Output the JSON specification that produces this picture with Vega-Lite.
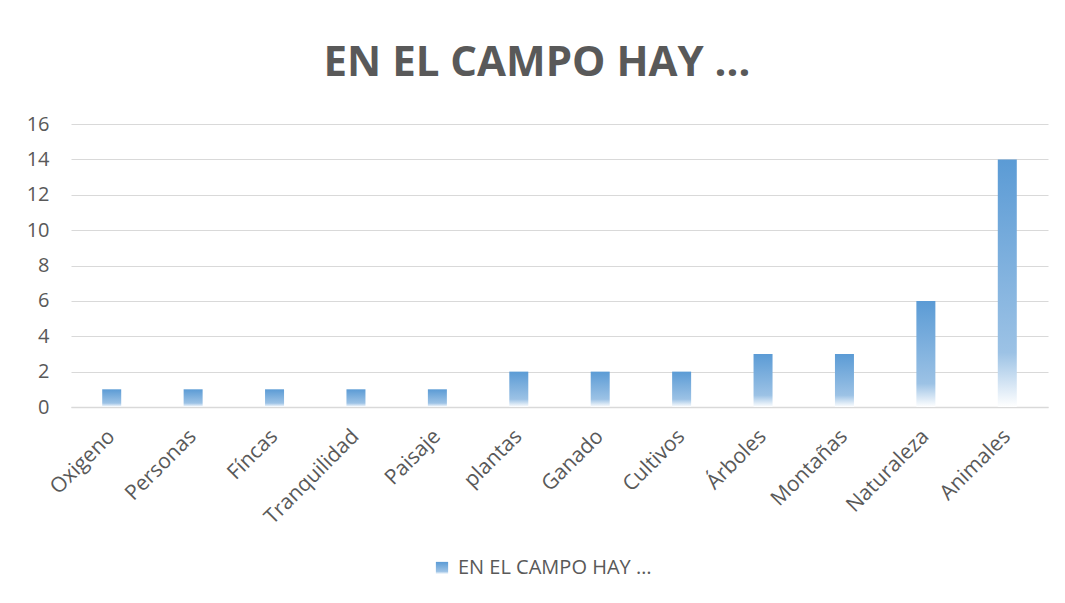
{
  "$schema": "https://vega.github.io/schema/vega-lite/v6.json",
  "autosize": {"type": "none"},
  "width": 977,
  "height": 283,
  "padding": {"left": 71, "top": 124, "right": 17, "bottom": 196},
  "background": "white",
  "title": {
    "text": "EN EL CAMPO HAY …",
    "font": "Open Sans",
    "fontSize": 42,
    "fontWeight": "bold",
    "color": "#595959",
    "anchor": "middle",
    "frame": "bounds",
    "offset": 29
  },
  "data": {
    "values": [
      {"cat": "Oxigeno", "v": 1},
      {"cat": "Personas", "v": 1},
      {"cat": "Fíncas", "v": 1},
      {"cat": "Tranquilidad", "v": 1},
      {"cat": "Paisaje", "v": 1},
      {"cat": "plantas", "v": 2},
      {"cat": "Ganado", "v": 2},
      {"cat": "Cultivos", "v": 2},
      {"cat": "Árboles", "v": 3},
      {"cat": "Montañas", "v": 3},
      {"cat": "Naturaleza", "v": 6},
      {"cat": "Animales", "v": 14}
    ]
  },
  "mark": {
    "type": "bar",
    "size": 19,
    "color": {
      "gradient": "linear",
      "x1": 0, "y1": 0, "x2": 0, "y2": 1,
      "stops": [
        {"offset": 0, "color": "#5b9bd5"},
        {"offset": 0.78, "color": "#9cc2e5"},
        {"offset": 1, "color": "#ffffff"}
      ]
    }
  },
  "encoding": {
    "x": {
      "field": "cat",
      "type": "nominal",
      "sort": null,
      "scale": {"paddingInner": 0, "paddingOuter": 0},
      "axis": {
        "title": null,
        "labelAngle": -45,
        "labelAlign": "right",
        "labelBaseline": "middle",
        "labelPadding": 26,
        "labelFontSize": 21,
        "ticks": false,
        "domainColor": "#d9d9d9",
        "domainWidth": 1.5,
        "grid": false
      }
    },
    "y": {
      "field": "v",
      "type": "quantitative",
      "scale": {"domain": [0, 16], "nice": false},
      "axis": {
        "title": null,
        "values": [0, 2, 4, 6, 8, 10, 12, 14, 16],
        "ticks": false,
        "domain": false,
        "labelPadding": 22,
        "gridColor": "#d9d9d9",
        "gridWidth": 1.2
      }
    },
    "opacity": {
      "datum": "EN EL CAMPO HAY …",
      "type": "ordinal",
      "scale": {"range": [1, 1]},
      "legend": {
        "title": null,
        "orient": "none",
        "legendX": 361,
        "legendY": 434,
        "symbolType": "square",
        "symbolSize": 150,
        "symbolFillColor": "#5b9bd5",
        "symbolStrokeWidth": 0,
        "symbolOpacity": 1,
        "labelFontSize": 20,
        "labelFont": "Open Sans",
        "labelColor": "#595959",
        "labelOffset": 6,
        "labelLimit": 400
      }
    }
  },
  "config": {
    "view": {"stroke": null},
    "axis": {
      "labelFont": "Open Sans",
      "labelFontSize": 20,
      "labelColor": "#595959"
    }
  }
}
